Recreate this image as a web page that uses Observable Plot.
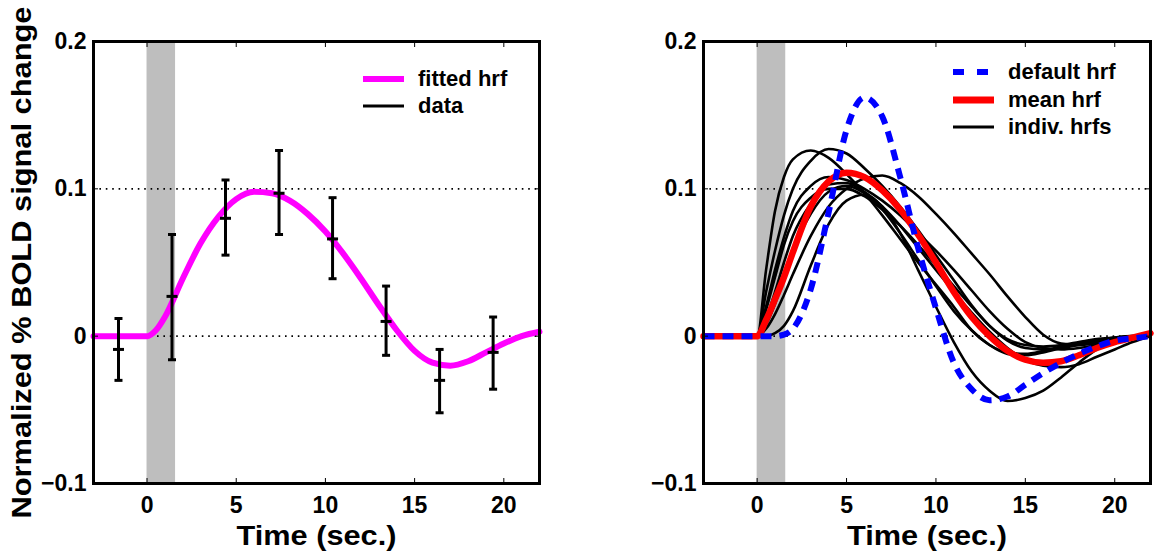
<!DOCTYPE html>
<html><head><meta charset="utf-8">
<script src="https://cdn.jsdelivr.net/npm/d3@7"></script>
<script src="https://cdn.jsdelivr.net/npm/@observablehq/plot@0.6"></script>
<style>
body{margin:0;background:#fff;}
#wrap{position:relative;width:1156px;height:553px;overflow:hidden;font-family:"Liberation Sans",Arial,Helvetica,sans-serif;font-weight:bold;}
.panel{position:absolute;top:0;}
.row{position:absolute;display:flex;align-items:center;white-space:nowrap;font-size:22px;color:#000;height:24px;}
.row svg{margin-right:14px;}
</style></head><body><div id="wrap"></div>
<script>
// ---------- data ----------
const xTicks = [0, 5, 10, 15, 20];
const yTicks = [-0.1, 0, 0.1, 0.2];
const yTickLabels = ["\u22120.1", "0", "0.1", "0.2"];
const xDomain = [-3, 22];
const yDomain = [-0.1, 0.2];
const stimulus = [{start: 0, end: 1.6}];

// left panel: measured data with error bars
const errX    = [-1.6, 1.4, 4.4, 7.4, 10.4, 13.4, 16.4, 19.4];
const errMean = [-0.009, 0.027, 0.080, 0.097, 0.066, 0.010, -0.030, -0.011];
const errLow  = [-0.030, -0.016, 0.055, 0.069, 0.039, -0.013, -0.052, -0.036];
const errHigh = [0.012, 0.069, 0.106, 0.126, 0.094, 0.034, -0.009, 0.013];

// left panel: fitted hrf
const fitX = [-3, 0, 0.5, 1, 2, 3, 4, 5, 6, 7, 8, 9, 10, 11, 12, 13, 14, 15, 16, 17, 18, 19, 20, 21, 22];
const fitY = [0, 0, 0.004, 0.013, 0.039, 0.063, 0.081, 0.093, 0.098, 0.097, 0.092, 0.083, 0.071, 0.056, 0.039, 0.021, 0.004, -0.010, -0.018, -0.020, -0.017, -0.011, -0.005, 0.000, 0.003];

// right panel
const hrfX = [-3, 0, 0.5, 1, 1.5, 2, 3, 4, 5, 6, 7, 8, 9, 10, 11, 12, 13, 14, 15, 16, 17, 18, 19, 20, 21, 22];
const defaultHrf = [0, 0, 0, 0, 0.001, 0.005, 0.032, 0.084, 0.140, 0.162, 0.149, 0.108, 0.060, 0.019, -0.018, -0.036, -0.0435, -0.041, -0.033, -0.025, -0.018, -0.012, -0.007, -0.003, -0.0015, 0];
const meanHrf = [0, 0, 0.011, 0.025, 0.040, 0.057, 0.088, 0.105, 0.111, 0.108, 0.099, 0.086, 0.069, 0.050, 0.030, 0.013, 0.000, -0.010, -0.016, -0.018, -0.017, -0.013, -0.008, -0.004, -0.001, 0.002];
const indivHrfs = [
  [0, 0, 0.045, 0.085, 0.108, 0.120, 0.126, 0.121, 0.110, 0.097, 0.082, 0.066, 0.050, 0.035, 0.020, 0.004, -0.006, -0.011, -0.012, -0.010, -0.007, -0.005, -0.003, -0.002, -0.001, 0],
  [0, 0, 0.030, 0.058, 0.082, 0.100, 0.119, 0.127, 0.124, 0.114, 0.102, 0.088, 0.072, 0.055, 0.038, 0.021, 0.007, -0.003, -0.008, -0.009, -0.008, -0.006, -0.004, -0.003, -0.001, 0],
  [0, 0, 0.005, 0.015, 0.028, 0.042, 0.068, 0.088, 0.100, 0.107, 0.109, 0.104, 0.095, 0.083, 0.070, 0.056, 0.042, 0.027, 0.013, 0.001, -0.005, -0.006, -0.005, -0.003, -0.001, 0],
  [0, 0, 0, 0.002, 0.007, 0.017, 0.048, 0.076, 0.092, 0.096, 0.088, 0.070, 0.045, 0.020, -0.004, -0.024, -0.037, -0.044, -0.042, -0.037, -0.028, -0.018, -0.009, -0.003, -0.001, 0],
  [0, 0, 0.012, 0.030, 0.050, 0.068, 0.090, 0.103, 0.104, 0.098, 0.088, 0.075, 0.060, 0.045, 0.030, 0.016, 0.003, -0.008, -0.016, -0.020, -0.021, -0.019, -0.014, -0.009, -0.004, 0],
  [0, 0, 0.008, 0.022, 0.040, 0.058, 0.083, 0.098, 0.102, 0.097, 0.086, 0.070, 0.052, 0.034, 0.017, 0.004, -0.006, -0.012, -0.013, -0.011, -0.008, -0.005, -0.003, -0.001, 0, 0],
  [0, 0, 0.018, 0.040, 0.062, 0.078, 0.094, 0.100, 0.100, 0.095, 0.086, 0.075, 0.062, 0.048, 0.034, 0.020, 0.007, -0.002, -0.006, -0.007, -0.006, -0.004, -0.002, -0.001, 0, 0],
  [0, 0, 0.020, 0.045, 0.067, 0.085, 0.102, 0.108, 0.106, 0.100, 0.092, 0.082, 0.070, 0.058, 0.045, 0.031, 0.017, 0.005, -0.004, -0.008, -0.009, -0.008, -0.006, -0.003, -0.001, 0]
];

const legendLeft = [
  {label: "fitted hrf", color: "#ff00ff", width: 6, dash: null},
  {label: "data", color: "#000000", width: 3, dash: null}
];
const legendRight = [
  {label: "default hrf", color: "#0000ff", width: 6, dash: "11,13"},
  {label: "mean hrf", color: "#ff0000", width: 7, dash: null},
  {label: "indiv. hrfs", color: "#000000", width: 3, dash: null}
];

// ---------- tables ----------
const errData = errX.map((x, i) => ({x, mean: errMean[i], lo: errLow[i], hi: errHigh[i]}));
const fitData = fitX.map((x, i) => ({x, y: fitY[i]}));
const defData = hrfX.map((x, i) => ({x, y: defaultHrf[i]}));
const meanData = hrfX.map((x, i) => ({x, y: meanHrf[i]}));
const indivData = indivHrfs.flatMap((s, k) => s.map((y, i) => ({x: hrfX[i], y, id: k})));

const capSymbol = {draw(ctx, size) { const w = Math.sqrt(size / Math.PI); ctx.moveTo(-w, 0); ctx.lineTo(w, 0); }};
const yFmt = d => yTickLabels[yTicks.indexOf(d)];

const FONT = '"Liberation Sans", Arial, Helvetica, sans-serif';

function axes(withYLabel) {
  return [
    Plot.axisX(xTicks, {anchor: "bottom", tickSize: 0, tickPadding: 13, fontSize: 23, label: "Time (sec.)", labelAnchor: "center", labelArrow: "none", labelOffset: 61}),
    Plot.axisX(xTicks, {anchor: "bottom", tickSize: 5, dy: -5, tickFormat: () => "", label: null}),
    Plot.axisX(xTicks, {anchor: "top", tickSize: 5, dy: 5, tickFormat: () => "", label: null}),
    Plot.axisY(yTicks, {anchor: "left", tickSize: 0, tickPadding: 7, fontSize: 23, tickFormat: yFmt,
      label: withYLabel ? "Normalized % BOLD signal change" : null, labelAnchor: "center", labelArrow: "none", labelOffset: 82}),
    Plot.axisY(yTicks, {anchor: "left", tickSize: 5, dx: 5, tickFormat: () => "", label: null}),
    Plot.axisY(yTicks, {anchor: "right", tickSize: 5, dx: -5, tickFormat: () => "", label: null})
  ];
}

function base(width, marginLeft, marginRight, marks, withYLabel) {
  return Plot.plot({
    width, height: 553, marginLeft, marginRight, marginTop: 41, marginBottom: 70,
    style: {fontFamily: FONT, fontWeight: "bold", fontSize: "23px", color: "#000", background: "transparent", overflow: "visible"},
    x: {domain: xDomain, axis: null},
    y: {domain: yDomain, axis: null},
    marks: [
      Plot.rect(stimulus, {x1: "start", x2: "end", fill: "#bebebe"}),
      Plot.ruleY(yTicks, {stroke: "#000", strokeWidth: 1.6, strokeDasharray: "1.6,4.8"}),
      ...marks,
      Plot.frame({stroke: "#000", strokeWidth: 3}),
      ...axes(withYLabel)
    ]
  });
}

const left = base(560, 93, 21, [
  Plot.line(fitData, {x: "x", y: "y", stroke: "#ff00ff", strokeWidth: 6, curve: "monotone-x"}),
  Plot.ruleX(errData, {x: "x", y1: "lo", y2: "hi", stroke: "#000", strokeWidth: 3}),
  Plot.dot(errData, {x: "x", y: "lo", symbol: capSymbol, r: 4, stroke: "#000", strokeWidth: 3}),
  Plot.dot(errData, {x: "x", y: "hi", symbol: capSymbol, r: 4, stroke: "#000", strokeWidth: 3}),
  Plot.dot(errData, {x: "x", y: "mean", symbol: capSymbol, r: 5.5, stroke: "#000", strokeWidth: 3})
], true);

const right = base(556, 103, 6, [
  Plot.line(indivData, {x: "x", y: "y", z: "id", stroke: "#000", strokeWidth: 2.6, curve: "monotone-x"}),
  Plot.line(meanData, {x: "x", y: "y", stroke: "#ff0000", strokeWidth: 6.5, curve: "monotone-x"}),
  Plot.line(defData, {x: "x", y: "y", stroke: "#0000ff", strokeWidth: 6, strokeDasharray: "11,8", strokeLinecap: "butt", curve: "monotone-x"})
], false);

function fixLabels(svg) {
  svg.querySelectorAll('g[aria-label="x-axis label"] text').forEach(t => {
    t.setAttribute("font-size", "27px"); t.style.fontSize = "27px";
    t.setAttribute("textLength", "160"); t.setAttribute("lengthAdjust", "spacingAndGlyphs");
  });
  svg.querySelectorAll('g[aria-label="y-axis label"] text').forEach(t => {
    t.setAttribute("font-size", "28px"); t.style.fontSize = "28px";
    t.setAttribute("textLength", "512"); t.setAttribute("lengthAdjust", "spacingAndGlyphs");
  });
}
fixLabels(left); fixLabels(right);

const wrap = document.getElementById("wrap");
left.classList.add("panel"); left.style.left = "0px";
right.classList.add("panel"); right.style.left = "600px";
wrap.appendChild(left); wrap.appendChild(right);

function legend(items, x, ys) {
  items.forEach((it, i) => {
    const row = document.createElement("div");
    row.className = "row";
    row.style.left = x + "px";
    row.style.top = (ys[i] - 12) + "px";
    const s = d3.create("svg").attr("width", 41).attr("height", 12);
    s.append("line").attr("x1", 0).attr("x2", 41).attr("y1", 6).attr("y2", 6)
      .attr("stroke", it.color).attr("stroke-width", it.width)
      .attr("stroke-dasharray", it.dash);
    row.appendChild(s.node());
    const span = document.createElement("span");
    span.textContent = it.label;
    row.appendChild(span);
    wrap.appendChild(row);
  });
}
legend(legendLeft, 363, [79, 106]);
legend(legendRight, 953, [72, 100, 127]);
</script></body></html>
